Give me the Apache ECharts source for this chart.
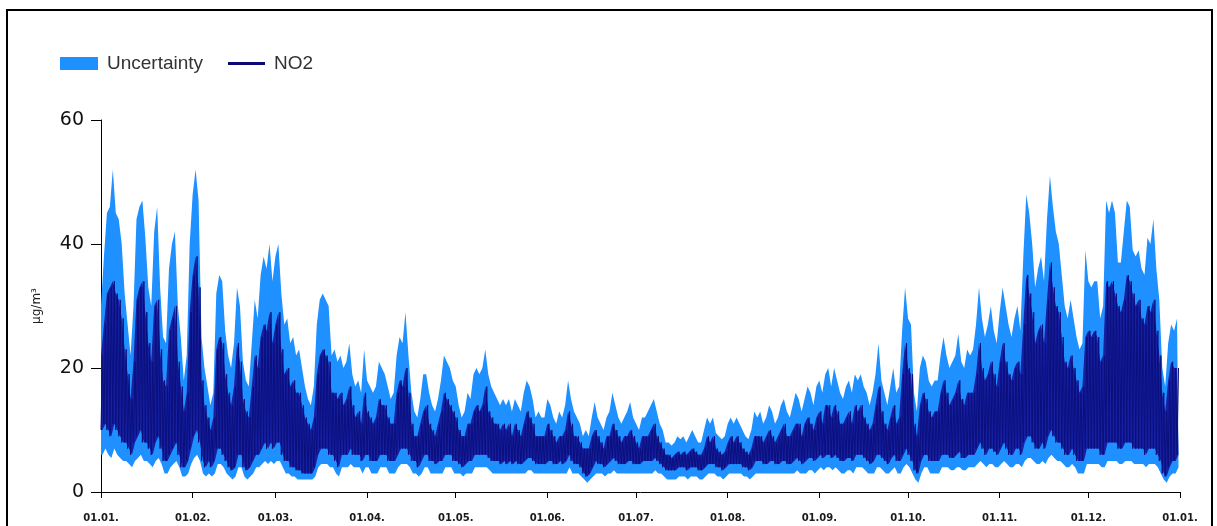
<!DOCTYPE html>
<html>
<head>
<meta charset="utf-8">
<script src="https://cdn.jsdelivr.net/npm/echarts@6/dist/echarts.min.js"></script>
<style>
  html, body { margin: 0; padding: 0; background: #fff; }
  #chart { width: 1217px; height: 526px; }
</style>
</head>
<body>
<div id="chart"></div>
<script>
// month starts (day of year) and their tick labels
const monthStarts = [0, 31, 59, 90, 120, 151, 181, 212, 243, 273, 304, 334, 365];
const tickLabels = ["01.01.", "01.02.", "01.03.", "01.04.", "01.05.", "01.06.", "01.07.",
  "01.08.", "01.09.", "01.10.", "01.11.", "01.12.", "01.01."];

// daily upper edge of the uncertainty band (µg/m³)
const uncTop = [
  30,38,45,46,52,45,44,40,32,27,22,30,44,46,47,41,33,30,42,46,33,25,24,36,40,42,30,25,18,22,40,
  48,52,47,25,20,17,14,16,32,35,34,26,22,20,24,33,30,21,18,17,24,31,28,35,38,36,40,34,
  38,40,32,27,28,24,25,22,23,20,17,15,14,17,27,31,32,31,30,22,23,21,22,20,21,24,19,17,18,16,23,
  18,17,16,17,21,20,19,17,15,16,22,25,24,29,22,16,13,12,15,19,19,16,14,13,15,18,22,21,20,18,
  17,14,12,13,16,15,19,20,19,20,23,19,17,16,15,14,15,14,15,13,15,14,13,16,18,17,15,12,13,12,12,
  15,14,12,11,13,12,14,18,15,13,12,11,9,10,9,12,14.5,12,11,10,12,13,16,14,12,11,12,13,14.5,12,
  11,10,12,12,13,14,15,13,11,10,8,8,7.5,8,9,8.5,9,8,9,10,9,8,8,10,12,11,12,9.5,9,8.5,9,
  11,12,11,12,11,10,9,8.5,10,13,12,13,11,12,14,13,11,12,14,15,13,12,14,16,15,13,15,17,16,14,17,
  18,16,19,20,17,20,18,16,15,17,18,16,19,18,19,17,16,14,16,19,24,18,16,14,17,20,16,17,26,33,
  28,27,16,13,20,22,21,18,17,18,18,22,25,22,20,21,22,25.5,21,20,23,22,23,27,33,28,25,27,30,26,24,
  29,33,30,27,25,28,30,26,38,48,45,40,33,36,38,34,44,51,46,42,40,35,30,28,31,28,25,23,24,39,
  34,33,34,34,28,30,47,45,47,45,37,37,42,47,46,39,38,39,36,35,41,40,44,36,31,20,17,24,27,26,28
];

// daily NO2 peak (daytime high)
const no2Peak = [
  22,27,32,33,34,32,31,28,23,19,15,21,31,33,34,29,24,21,30,31,23,18,17,26,28,30,21,17,13,16,29,
  35,38,33,18,14,12,10,12,23,25,24,19,16,14,17,24,21,15,13,12,17,22,20,25,27,26,29,24,
  27,29,23,19,20,17,18,16,16,14,12,11,10,12,19,22,23,22,21,16,16,15,16,14,15,17,14,12,13,11,16,
  13,12,11,12,15,14,14,12,11,11,16,18,17,20,16,11,9,9,11,13,14,11,10,9,11,13,16,15,14,13,
  12,10,9,9,11,11,13,14,13,14,17,13,12,11,11,10,11,10,11,9,11,10,9,11,13,12,11,9,9,9,9,
  11,10,9,8,9,9,10,13,11,9,9,8,7,7,7,9,10,9,8,7,9,9,11,10,9,8,9,9,10,9,
  8,7,9,9,9,10,11,9,8,7,6,6,5.5,6,6.5,6,6.5,6,6.5,7,6.5,6,6,7,9,8,9,7,6.5,6,6.5,
  8,9,8,9,8,7,6.5,6,7,9,9,9,8,9,10,9,8,9,10,11,9,9,10,11,11,9,11,12,11,10,12,
  13,11,14,14,12,14,13,11,11,12,13,11,14,13,14,12,11,10,11,14,17,13,11,10,12,14,11,12,19,24,
  20,19,11,9,14,16,15,13,12,13,13,16,18,16,14,15,16,18,15,14,16,16,16,19,24,20,18,19,21,19,17,
  21,24,21,19,18,20,21,19,27,35,32,29,24,26,27,24,31,37,33,30,29,25,21,20,22,20,18,16,17,25,
  26,25,26,25,21,22,34,33,34,32,30,29,31,35,34,32,30,31,28,27,30,29,31,26,22,16,13,18,21,20,20
];

// daily NO2 base (night-time low)
const no2Base = [
  10,11,10,9,11,10,9,8,8,7,6,8,9,10,8,8,7,6,8,9,7,5,5,6,7,8,6,4,4,5,7,
  9,10,8,5,4,5,4,5,7,7,6,5,4,3.5,4,6,6,4,3.5,4,5,6,6,7,8,7,8,7,
  8,8,6,5,5,4,4,3.5,3.5,3,3,3,3,4,6,7,7,7,6,6,5,4,6,6,6,7,6,6,6,5,6,
  6,5,5,5,6,6,6,5,5,5,6,7,7,7,6,5,5,4,5,6,6,5,5,4.5,5,5,6,6,6,5,
  5,4.5,4,4.5,5,5,6,6,6,6,6,5.5,5,5,5,4.5,5,4.5,5,4.5,5,4.5,4.5,5,5.5,5.5,5,4.5,4.5,4.5,4.5,
  5,5,4.5,4.5,5,4.5,5,6,5,4.5,4.5,4,3,2.5,3,4,5,4.5,4.5,4,4.5,5,5.5,5,4.5,4.5,4.5,5,5,4.5,
  4.5,4.5,5,5,5,5,5.5,5,4.5,4,3.5,3.5,3.5,3.5,4,4,4,3.5,4,4,4,3.5,3.5,4,4.5,4.5,4.5,4,4,3.5,4,
  4.5,4.5,4.5,4.5,4.5,4,4,3.5,4,5,5,5,4.5,4.5,5,5,4.5,4.5,5,5,4.5,4.5,5,5.5,5,4.5,5,5.5,5.5,5,5.5,
  6,5.5,6,6,5.5,6,5.5,5,5,5.5,5.5,5,6,6,6,5.5,5,4.5,5,6,6,5.5,5,4.5,5.5,6,5,5,6,7,
  6,5,3.5,3,5,6,6,5,5,5,5,6,6,6,5.5,5.5,6,6.5,5.5,5.5,6,6,6,7,8,7,6,7,7,6.5,6,
  7,8,7,6,6,7,7,6,8,9,9,8,7,7,8,7,9,10,9,8,8,7,6,6,7,6,5,5,5,7,
  7,7,7,7,6,6,8,8,8,8,7,7,8,8,8,7,7,7,7,6,7,7,7,6,5,3,2.5,4,5,5,6
];

// daily lower edge of the uncertainty band
const uncBottom = [
  6,7,6,5.5,7,6,5.5,5,5,4.5,4,5,5.5,6,5,5,4.5,4,5,5.5,4.5,3,3,4,4.5,5,4,2.5,2.5,3,4.5,
  5.5,6,5,3,2.5,3,2.5,3,4.5,4.5,4,3,2.5,2,2.5,4,4,2.5,2,2.5,3,4,4,4.5,5,4.5,5,4.5,
  5,5,4,3,3,2.5,2.5,2,2,2,2,2,2,2.5,4,4.5,4.5,4.5,4,4,3,2.5,4,4,4,4.5,4,4,4,3,4,
  4,3,3,3,4,4,4,3,3,3,4,4.5,4.5,4.5,4,3,3,2.5,3,4,4,3,3,3,3,3,4,4,4,3,
  3,3,2.5,3,3,3,4,4,4,4,4,3.5,3,3,3,3,3,3,3,3,3,3,3,3,3.5,3.5,3,3,3,3,3,
  3,3,3,3,3,3,3,4,3,3,3,2.5,2,1.5,2,2.5,3,3,3,2.5,3,3,3.5,3,3,3,3,3,3,3,
  3,3,3,3,3,3,3.5,3,3,2.5,2,2,2,2,2.5,2.5,2.5,2,2.5,2.5,2.5,2,2,2.5,3,3,3,2.5,2.5,2,2.5,
  3,3,3,3,3,2.5,2.5,2,2.5,3,3,3,3,3,3,3,3,3,3,3,3,3,3,3.5,3,3,3,3.5,3.5,3,3.5,
  4,3.5,4,4,3.5,4,3.5,3,3,3.5,3.5,3,4,4,4,3.5,3,3,3,4,4,3.5,3,3,3.5,4,3,3,4,4.5,
  4,3,2,1.5,3,4,4,3,3,3,3,4,4,4,3.5,3.5,4,4,3.5,3.5,4,4,4,4.5,5,4.5,4,4.5,4.5,4,4,
  4.5,5,4.5,4,4,4.5,4.5,4,5,5.5,5.5,5,4.5,4.5,5,4.5,5.5,6,5.5,5,5,4.5,4,4,4.5,4,3,3,3,4.5,
  4.5,4.5,4.5,4.5,4,4,5,5,5,5,4.5,4.5,5,5,5,4.5,4.5,4.5,4.5,4,4.5,4.5,4.5,4,3,2,1.5,2.5,3,3,4
];

// half-day slots: even = night low, odd = daytime peak
const nDays = 365;
const slots = [];
for (let k = 0; k <= nDays * 2; k++) slots.push(String(k));

const no2Line = [];
const no2Low = [];
const no2Span = [];
const bandLow = [];
const bandSpan = [];
for (let d = 0; d < nDays; d++) {
  no2Line.push(no2Base[d], no2Peak[d]);
  no2Low.push(no2Base[d], no2Base[d]);
  no2Span.push(no2Peak[d] - no2Base[d], no2Peak[d] - no2Base[d]);
  bandLow.push(uncBottom[d], uncBottom[d]);
  bandSpan.push(uncTop[d] - uncBottom[d], uncTop[d] - uncBottom[d]);
}
[no2Line, no2Low, no2Span, bandLow, bandSpan].forEach((a) => a.push(null));

const tickAt = {};
monthStarts.forEach((m, i) => { tickAt[m * 2] = tickLabels[i]; });
const isTick = (index) => tickAt[index] !== undefined;

const colors = {
  band: "#1e90ff",
  no2Fill: "#1620a2",
  no2: "#0a0f7c",
  legendLine: "#0a0a72",
};

const chart = echarts.init(document.getElementById("chart"));

const legendText = {
  color: "#333",
  fontSize: 19,
  fontFamily: "Liberation Sans",
  padding: [0, 0, 0, 4],
};

const option = {
  animation: false,
  backgroundColor: "#fff",
  graphic: [
    {
      type: "rect",
      shape: { x: 7, y: 10, width: 1205, height: 540 },
      style: { fill: "none", stroke: "#000", lineWidth: 2 },
      silent: true,
    },
  ],
  legend: [
    {
      left: 55,
      top: 49,
      itemWidth: 38,
      itemHeight: 13,
      textStyle: legendText,
      data: [{ name: "Uncertainty", icon: "rect" }],
    },
    {
      left: 223,
      top: 49,
      itemWidth: 37,
      itemHeight: 3,
      textStyle: legendText,
      data: [{ name: "NO2", icon: "rect", itemStyle: { color: colors.legendLine } }],
    },
  ],
  grid: {
    left: 101,
    right: 37,
    top: 120,
    bottom: 34,
  },
  xAxis: {
    type: "category",
    data: slots,
    boundaryGap: false,
    axisLine: { lineStyle: { color: "#000", width: 1 } },
    axisTick: {
      interval: (index) => isTick(index),
      length: 6,
      lineStyle: { color: "#000" },
    },
    axisLabel: {
      interval: (index) => isTick(index),
      formatter: (value, index) => tickAt[index] || "",
      color: "#1a1a1a",
      fontSize: 10,
      fontWeight: "bold",
      fontFamily: "DejaVu Sans",
      margin: 21,
    },
    splitLine: { show: false },
  },
  yAxis: {
    type: "value",
    min: 0,
    max: 60,
    interval: 20,
    name: "µg/m³",
    nameLocation: "middle",
    nameGap: 58,
    nameRotate: 90,
    nameTextStyle: {
      color: "#222",
      fontSize: 12,
      fontFamily: "DejaVu Sans",
    },
    axisLine: { show: true, lineStyle: { color: "#000", width: 1 } },
    axisTick: { show: true, length: 10, lineStyle: { color: "#000" } },
    axisLabel: {
      color: "#111",
      fontSize: 19,
      fontFamily: "DejaVu Sans",
      margin: 17,
    },
    splitLine: { show: false },
  },
  series: [
    {
      name: "_bandBase",
      type: "line",
      stack: "unc",
      data: bandLow,
      symbol: "none",
      silent: true,
      lineStyle: { width: 0, opacity: 0 },
      itemStyle: { color: "transparent" },
    },
    {
      name: "Uncertainty",
      type: "line",
      stack: "unc",
      data: bandSpan,
      symbol: "none",
      silent: true,
      itemStyle: { color: colors.band },
      lineStyle: { width: 0, opacity: 0 },
      areaStyle: { color: colors.band, opacity: 1 },
    },
    {
      name: "_no2Base",
      type: "line",
      stack: "no2",
      data: no2Low,
      symbol: "none",
      silent: true,
      lineStyle: { width: 0, opacity: 0 },
      itemStyle: { color: "transparent" },
    },
    {
      name: "_no2Fill",
      type: "line",
      stack: "no2",
      data: no2Span,
      symbol: "none",
      silent: true,
      lineStyle: { width: 0, opacity: 0 },
      areaStyle: { color: colors.no2Fill, opacity: 1 },
    },
    {
      name: "NO2",
      type: "line",
      data: no2Line,
      symbol: "none",
      silent: true,
      itemStyle: { color: colors.legendLine },
      lineStyle: { color: colors.no2, width: 1 },
    },
  ],
};

chart.setOption(option);
</script>
</body>
</html>
